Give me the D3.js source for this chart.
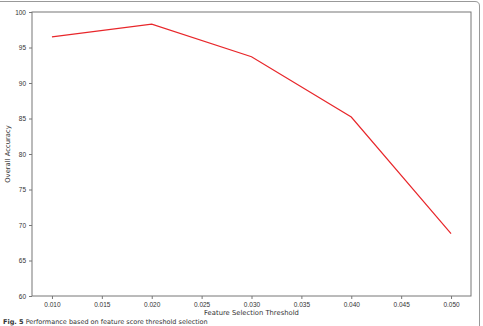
<!DOCTYPE html>
<html>
<head>
<meta charset="utf-8">
<script src="https://cdn.jsdelivr.net/npm/d3@7"></script>
<style>
  body { margin: 0; background: #fff; }
  svg { display: block; font-family: "DejaVu Sans", sans-serif; }
</style>
</head>
<body>
<div id="chart"></div>
<script>
// data
let thresholds = [0.01, 0.02, 0.03, 0.04, 0.05]
let accuracy = [96.5, 98.3, 93.7, 85.2, 68.8]
let xTicks = [0.010, 0.015, 0.020, 0.025, 0.030, 0.035, 0.040, 0.045, 0.050]
let yTicks = [60, 65, 70, 75, 80, 85, 90, 95, 100]

let width = 483
let height = 326
let margin = { top: 12, right: 12, bottom: 30, left: 32 }

let svg = d3.select('#chart')
  .append('svg')
  .attr('width', width)
  .attr('height', height)

// outer figure frame (top and right edges visible)
svg.append('path')
  .attr('d', 'M0,1.5 H475 Q479.5,1.5 479.5,6 V326')
  .attr('fill', 'none')
  .attr('stroke', '#999')
  .attr('stroke-width', 1)

let x = d3.scaleLinear()
  .domain([0.008, 0.052])
  .range([margin.left, width - margin.right])

let y = d3.scaleLinear()
  .domain([60, 100])
  .range([height - margin.bottom, margin.top])

// plot box
svg.append('rect')
  .attr('x', margin.left)
  .attr('y', margin.top)
  .attr('width', width - margin.left - margin.right)
  .attr('height', height - margin.top - margin.bottom)
  .attr('fill', 'none')
  .attr('stroke', '#777')
  .attr('stroke-width', 1)

let xAxis = svg.append('g')
  .attr('transform', 'translate(0,' + (height - margin.bottom) + ')')
  .call(d3.axisBottom(x).tickValues(xTicks).tickFormat(d3.format('.3f')).tickSize(3).tickPadding(3))
xAxis.select('.domain').remove()

let yAxis = svg.append('g')
  .attr('transform', 'translate(' + margin.left + ',0)')
  .call(d3.axisLeft(y).tickValues(yTicks).tickSize(3).tickPadding(3))
yAxis.select('.domain').remove()

svg.selectAll('.tick line').attr('stroke', '#777')
svg.selectAll('.tick text')
  .attr('fill', '#333')
  .style('font-size', '6.5px')

// axis titles
svg.append('text')
  .attr('x', (margin.left + width - margin.right) / 2)
  .attr('y', 315)
  .attr('text-anchor', 'middle')
  .attr('fill', '#333')
  .style('font-size', '6.8px')
  .text('Feature Selection Threshold')

svg.append('text')
  .attr('transform', 'translate(10,' + ((margin.top + height - margin.bottom) / 2) + ') rotate(-90)')
  .attr('text-anchor', 'middle')
  .attr('fill', '#333')
  .style('font-size', '6.8px')
  .text('Overall Accuracy')

// the accuracy line
let line = d3.line()
  .x(function (d, i) { return x(thresholds[i]) })
  .y(function (d) { return y(d) })

svg.append('path')
  .datum(accuracy)
  .attr('d', line)
  .attr('fill', 'none')
  .attr('stroke', '#e8262a')
  .attr('stroke-width', 1.2)

// caption at the very bottom
let caption = svg.append('text')
  .attr('x', 3)
  .attr('y', 324)
  .attr('fill', '#333')
  .style('font-size', '6.5px')
caption.append('tspan').style('font-weight', 'bold').text('Fig. 5')
caption.append('tspan').text(' Performance based on feature score threshold selection')
</script>
</body>
</html>
